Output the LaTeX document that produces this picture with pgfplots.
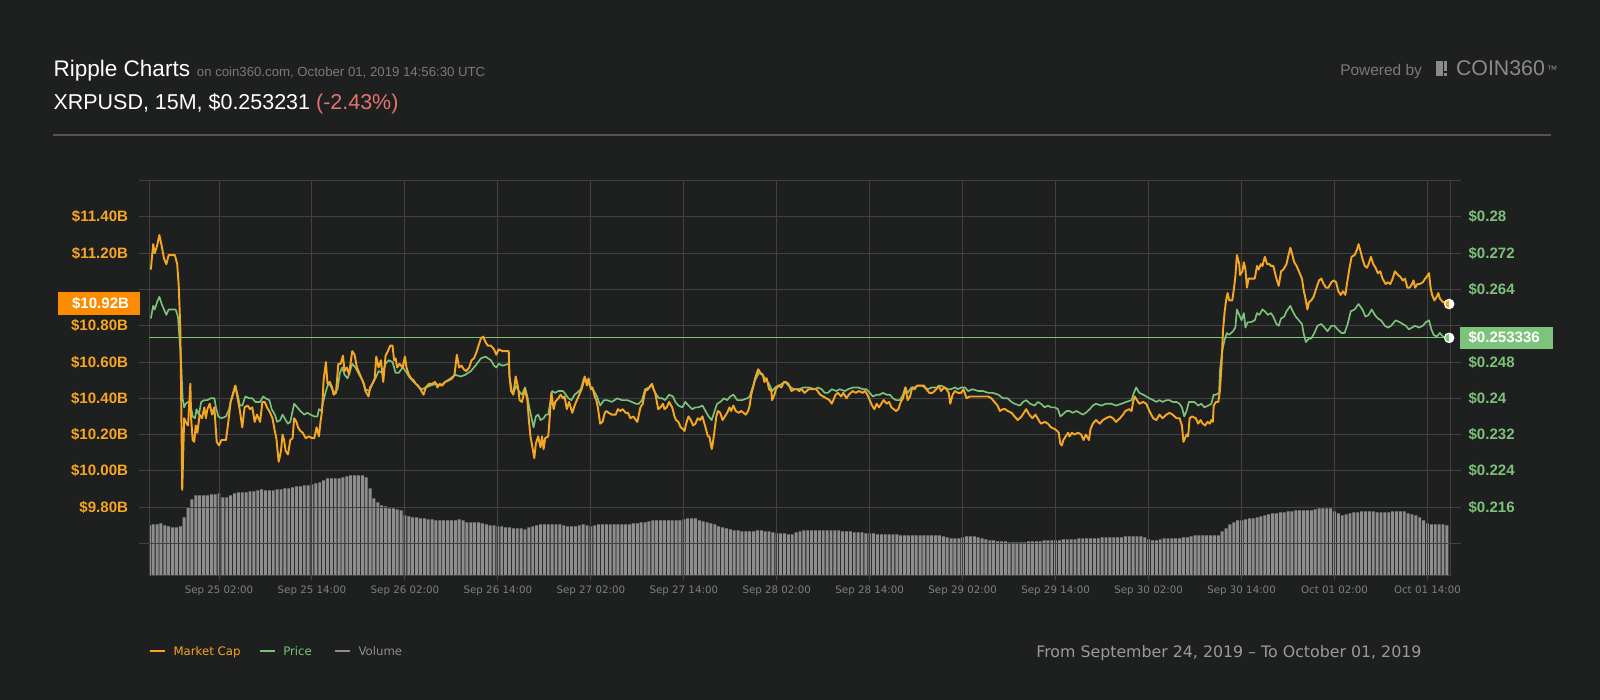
\documentclass[border=0pt]{standalone}
\usepackage{fontspec}
\setmainfont{Liberation Sans}
\newfontfamily\dejavu{DejaVu Sans}
\usepackage{pgfplots}
\pgfplotsset{compat=1.18}
\usetikzlibrary{plotmarks}
\definecolor{bg}{HTML}{1E1F1F}
\definecolor{gridc}{HTML}{424242}
\definecolor{mcapc}{HTML}{F5A623}
\definecolor{pricec}{HTML}{7DC27A}
\definecolor{volc}{HTML}{8E8E8E}
\definecolor{boxorange}{HTML}{FB8C00}
\definecolor{boxgreen}{HTML}{7CC47C}
\definecolor{subc}{HTML}{7A7A7A}
\definecolor{redc}{HTML}{E57373}
\definecolor{rulec}{HTML}{555555}
\definecolor{xtickc}{HTML}{808080}
\definecolor{footc}{HTML}{9A9A9A}
\definecolor{logoc}{HTML}{8A8A8A}
\pgfplotsset{base/.style={at={(111.98pt,93.53pt)}, anchor=south west, scale only axis,
  width=976.05pt, height=295.95pt, xmin=-7, xmax=161, clip mode=individual}}
\begin{document}
\begin{tikzpicture}
\useasboundingbox (0,0) rectangle (1200pt,525pt);
\fill[bg] (0,0) rectangle (1200pt,525pt);
% header
\node[anchor=base west, inner sep=0, text=white, font=\fontsize{16.9}{20}\selectfont] at (40pt,467.5pt) {Ripple Charts};
\node[anchor=base west, inner sep=0, text=subc, font=\fontsize{9.9}{12}\selectfont] at (147.5pt,467.5pt) {on coin360.com, October 01, 2019 14:56:30 UTC};
\node[anchor=base west, inner sep=0, text=white, font=\fontsize{16.1}{20}\selectfont] at (40pt,442.5pt) {XRPUSD, 15M, \$0.253231 \textcolor{redc}{(-2.43\%)}};
\draw[rulec, line width=1.5pt] (40pt,423.75pt) -- (1163.25pt,423.75pt);
\node[anchor=base west, inner sep=0, text=subc, font=\fontsize{11.6}{14}\selectfont] at (1005pt,468pt) {Powered by};
\fill[logoc] (1076.8pt,468pt) rectangle (1082.3pt,479.5pt);
\fill[logoc] (1083.2pt,471.4pt) rectangle (1085pt,479.5pt);
\fill[logoc] (1083.2pt,468pt) rectangle (1085pt,470.3pt);
\node[anchor=base west, inner sep=0, text=logoc, font=\fontsize{16}{19}\selectfont] at (1091.8pt,468pt) {COIN360};
\node[anchor=base west, inner sep=0, text=logoc, font=\fontsize{8}{9}\selectfont] at (1160pt,470pt) {™};
% legend
\draw[mcapc, line width=1pt] (112.5pt,36.75pt) -- (123.75pt,36.75pt);
\node[anchor=base west, inner sep=0, text=mcapc, font=\dejavu\fontsize{8.8}{10}\selectfont] at (130pt,33.75pt) {Market Cap};
\draw[pricec, line width=1pt] (195.2pt,36.75pt) -- (206.25pt,36.75pt);
\node[anchor=base west, inner sep=0, text=pricec, font=\dejavu\fontsize{8.8}{10}\selectfont] at (212.25pt,33.75pt) {Price};
\draw[volc, line width=1pt] (251.5pt,36.75pt) -- (262.5pt,36.75pt);
\node[anchor=base west, inner sep=0, text=volc, font=\dejavu\fontsize{8.8}{10}\selectfont] at (268.7pt,33.75pt) {Volume};
\node[anchor=base east, inner sep=0, text=footc, font=\dejavu\fontsize{11.85}{14}\selectfont] at (1066.3pt,31.7pt) {From September 24, 2019 – To October 01, 2019};

% volume
\begin{axis}[base, ymin=0, ymax=394.6, hide axis]
\addplot[ybar, bar width=0.38, fill=volc, draw=none] coordinates {
(-7,50) (-6.5,51) (-6,51) (-5.5,52) (-5,50) (-4.5,49) (-4,48) (-3.5,48) (-3,49) (-2.5,58) (-2,68) (-1.5,76) (-1,80) (-0.5,80) (0,80) (0.5,80) (1,81) (1.5,81) (2,82) (2.5,78) (3,78) (3.5,80) (4,82) (4.5,83) (5,83) (5.5,83) (6,84) (6.5,84) (7,85) (7.5,86) (8,85) (8.5,85) (9,85) (9.5,86) (10,86) (10.5,87) (11,87) (11.5,88) (12,89) (12.5,89) (13,90) (13.5,90) (14,91) (14.5,92) (15,93) (15.5,95) (16,97) (16.5,97) (17,97) (17.5,97) (18,98) (18.5,99) (19,100) (19.5,100) (20,100) (20.5,100) (21,98) (21.5,87) (22,77) (22.5,73) (23,70) (23.5,69) (24,67) (24.5,67) (25,66) (25.5,65) (26,60) (26.5,59) (27,58) (27.5,58) (28,57) (28.5,57) (29,56) (29.5,56) (30,55) (30.5,55) (31,55) (31.5,55) (32,55) (32.5,55) (33,56) (33.5,55) (34,53) (34.5,53) (35,53) (35.5,53) (36,52) (36.5,51) (37,50) (37.5,50) (38,49) (38.5,49) (39,48) (39.5,48) (40,47) (40.5,47) (41,47) (41.5,46) (42,48) (42.5,49) (43,50) (43.5,51) (44,51) (44.5,51) (45,51) (45.5,51) (46,51) (46.5,50) (47,49) (47.5,49) (48,49) (48.5,50) (49,51) (49.5,50) (50,49) (50.5,50) (51,51) (51.5,51) (52,51) (52.5,51) (53,51) (53.5,51) (54,51) (54.5,51) (55,51) (55.5,52) (56,52) (56.5,53) (57,53) (57.5,54) (58,55) (58.5,55) (59,55) (59.5,55) (60,55) (60.5,55) (61,55) (61.5,55) (62,56) (62.5,57) (63,57) (63.5,57) (64,55) (64.5,54) (65,53) (65.5,52) (66,51) (66.5,49) (67,48) (67.5,47) (68,46) (68.5,45) (69,45) (69.5,44) (70,44) (70.5,44) (71,44) (71.5,45) (72,45) (72.5,44) (73,44) (73.5,43) (74,42) (74.5,42) (75,42) (75.5,41) (76,41) (76.5,43) (77,44) (77.5,45) (78,45) (78.5,45) (79,45) (79.5,45) (80,45) (80.5,45) (81,45) (81.5,45) (82,45) (82.5,44) (83,44) (83.5,44) (84,43) (84.5,43) (85,43) (85.5,42) (86,42) (86.5,42) (87,41) (87.5,41) (88,41) (88.5,41) (89,41) (89.5,41) (90,40) (90.5,40) (91,40) (91.5,40) (92,40) (92.5,40) (93,40) (93.5,40) (94,40) (94.5,40) (95,40) (95.5,39) (96,38) (96.5,37) (97,37) (97.5,37) (98,38) (98.5,39) (99,39) (99.5,39) (100,38) (100.5,37) (101,36) (101.5,35) (102,35) (102.5,34) (103,34) (103.5,34) (104,33) (104.5,33) (105,33) (105.5,33) (106,33) (106.5,34) (107,34) (107.5,34) (108,34) (108.5,35) (109,35) (109.5,35) (110,35) (110.5,35) (111,36) (111.5,36) (112,36) (112.5,36) (113,37) (113.5,37) (114,37) (114.5,37) (115,37) (115.5,37) (116,38) (116.5,38) (117,38) (117.5,38) (118,38) (118.5,38) (119,39) (119.5,39) (120,39) (120.5,39) (121,39) (121.5,38) (122,36) (122.5,35) (123,35) (123.5,36) (124,37) (124.5,37) (125,37) (125.5,37) (126,37) (126.5,38) (127,38) (127.5,39) (128,40) (128.5,40) (129,40) (129.5,40) (130,40) (130.5,40) (131,40) (131.5,44) (132,47) (132.5,51) (133,53) (133.5,55) (134,55) (134.5,56) (135,57) (135.5,57) (136,58) (136.5,59) (137,60) (137.5,61) (138,62) (138.5,62) (139,63) (139.5,63) (140,64) (140.5,64) (141,65) (141.5,65) (142,65) (142.5,65) (143,65) (143.5,66) (144,67) (144.5,67) (145,67) (145.5,67) (146,64) (146.5,62) (147,60) (147.5,61) (148,62) (148.5,63) (149,63) (149.5,64) (150,64) (150.5,64) (151,64) (151.5,63) (152,63) (152.5,63) (153,63) (153.5,64) (154,64) (154.5,64) (155,64) (155.5,62) (156,61) (156.5,60) (157,58) (157.5,55) (158,52) (158.5,51) (159,51) (159.5,51) (160,51) (160.5,50)
};
\end{axis}

% grid and left labels
\begin{axis}[base, ymin=9.424, ymax=11.6,
  axis line style={draw=none}, major tick length=0pt,
  xtick={2,14,26,38,50,62,74,86,98,110,122,134,146,158},
  xticklabels={Sep 25 02:00,Sep 25 14:00,Sep 26 02:00,Sep 26 14:00,Sep 27 02:00,Sep 27 14:00,Sep 28 02:00,Sep 28 14:00,Sep 29 02:00,Sep 29 14:00,Sep 30 02:00,Sep 30 14:00,Oct 01 02:00,Oct 01 14:00},
  xmajorgrids, grid style={gridc, line width=0.75pt},
  ytick={9.8,10,10.2,10.4,10.6,10.8,11.2,11.4},
  yticklabels={\$9.80B,\$10.00B,\$10.20B,\$10.40B,\$10.60B,\$10.80B,\$11.20B,\$11.40B},
  yticklabel style={anchor=east, inner sep=0pt, xshift=-15.75pt, font=\bfseries\fontsize{11.3}{13}\selectfont, text=mcapc},
  xticklabel style={anchor=base, inner sep=0pt, yshift=-14pt, font=\dejavu\fontsize{7.7}{9}\selectfont, text=xtickc},
  ytick pos=left, xtick pos=bottom]
\pgfplotsinvokeforeach{9.6,9.8,10.0,10.2,10.4,10.6,10.8,11.0,11.2,11.4,11.6}{
  \draw[gridc, line width=0.75pt] ([xshift=-7.5pt]axis cs:-7,#1) -- ([xshift=7.5pt]axis cs:161,#1);}
\draw[gridc, line width=0.75pt] (axis cs:-7,9.424) -- (axis cs:-7,11.6);
\draw[gridc, line width=0.75pt] (axis cs:161,9.424) -- (axis cs:161,11.6);
\draw[gridc, line width=0.75pt] (axis cs:-7,9.424) -- (axis cs:161,9.424);
\pgfplotsinvokeforeach{2,14,26,38,50,62,74,86,98,110,122,134,146,158}{
  \draw[gridc, line width=0.75pt] (axis cs:#1,9.424) -- ([yshift=-3.75pt]axis cs:#1,9.424);}
\end{axis}

% price
\begin{axis}[base, ymin=0.20096, ymax=0.288, hide x axis,
  axis line style={draw=none}, major tick length=0pt,
  ytick={0.216,0.224,0.232,0.24,0.248,0.264,0.272,0.28},
  yticklabels={\$0.216,\$0.224,\$0.232,\$0.24,\$0.248,\$0.264,\$0.272,\$0.28},
  ytick pos=right, yticklabel pos=right,
  yticklabel style={anchor=west, inner sep=0pt, xshift=13.2pt, font=\bfseries\fontsize{11.3}{13}\selectfont, text=pricec}]
\addplot[pricec, line width=0.7pt] coordinates {(-7,0.253336) (161,0.253336)};
\addplot[pricec, line width=1.25pt, line join=round] coordinates {
(-6.8,0.2576) (-6.5,0.2604) (-6.3,0.2596) (-6.0,0.2612) (-5.7,0.2624) (-5.4,0.2608) (-5.1,0.2596) (-4.8,0.2584) (-4.5,0.2596) (-4.0,0.2596) (-3.6,0.2596) (-3.3,0.2580) (-3.2,0.2556) (-2.9,0.2484) (-2.7,0.2400) (-2.5,0.2380) (-2.3,0.2388) (-2.0,0.2392) (-1.7,0.2388) (-1.4,0.2360) (-1.1,0.2356) (-0.9,0.2376) (-0.6,0.2364) (-0.3,0.2392) (0.1,0.2396) (0.5,0.2396) (0.9,0.2400) (1.4,0.2400) (1.6,0.2380) (1.9,0.2360) (2.3,0.2356) (2.9,0.2360) (3.3,0.2376) (3.6,0.2400) (4.1,0.2428) (4.4,0.2408) (4.7,0.2384) (5.0,0.2384) (5.4,0.2404) (5.9,0.2400) (6.3,0.2400) (6.7,0.2392) (7.3,0.2392) (7.7,0.2404) (8.0,0.2400) (8.5,0.2396) (8.8,0.2376) (9.2,0.2364) (9.5,0.2348) (9.9,0.2352) (10.2,0.2364) (10.6,0.2352) (10.9,0.2344) (11.2,0.2348) (11.7,0.2388) (12.1,0.2380) (12.5,0.2372) (13.0,0.2364) (13.4,0.2368) (13.8,0.2364) (14.3,0.2360) (14.7,0.2360) (14.9,0.2376) (15.2,0.2372) (15.5,0.2396) (15.8,0.2416) (16.1,0.2432) (16.4,0.2428) (16.8,0.2412) (17.3,0.2420) (17.6,0.2456) (17.9,0.2468) (18.2,0.2452) (18.6,0.2444) (18.9,0.2460) (19.2,0.2476) (19.6,0.2468) (20.1,0.2452) (20.5,0.2440) (20.9,0.2420) (21.4,0.2416) (21.8,0.2432) (22.2,0.2444) (22.6,0.2460) (23.1,0.2456) (23.5,0.2476) (23.9,0.2484) (24.4,0.2480) (24.8,0.2456) (25.2,0.2456) (25.7,0.2468) (26.1,0.2460) (26.5,0.2448) (26.9,0.2440) (27.4,0.2432) (27.8,0.2424) (28.2,0.2420) (28.7,0.2424) (29.3,0.2428) (30.0,0.2432) (30.6,0.2428) (31.2,0.2436) (31.9,0.2444) (32.5,0.2452) (33.2,0.2448) (33.8,0.2452) (34.5,0.2460) (35.1,0.2472) (35.8,0.2488) (36.4,0.2492) (37.1,0.2484) (37.5,0.2472) (37.8,0.2468) (38.1,0.2476) (38.6,0.2472) (39.4,0.2476) (39.5,0.2448) (39.8,0.2416) (40.1,0.2416) (40.4,0.2428) (40.7,0.2416) (41.1,0.2408) (41.5,0.2424) (41.8,0.2404) (42.1,0.2376) (42.3,0.2360) (42.6,0.2336) (42.9,0.2360) (43.2,0.2364) (43.5,0.2352) (43.9,0.2356) (44.2,0.2364) (44.5,0.2364) (44.8,0.2396) (45.0,0.2416) (45.4,0.2412) (45.8,0.2416) (46.4,0.2416) (46.6,0.2412) (47.1,0.2400) (47.5,0.2396) (47.9,0.2408) (48.2,0.2412) (48.7,0.2420) (49.1,0.2444) (49.5,0.2440) (50.0,0.2424) (50.4,0.2416) (50.8,0.2404) (51.2,0.2384) (51.7,0.2396) (52.1,0.2396) (52.7,0.2392) (53.4,0.2400) (54.0,0.2396) (54.7,0.2396) (55.3,0.2392) (55.8,0.2388) (56.2,0.2388) (56.6,0.2396) (57.0,0.2420) (57.5,0.2424) (57.9,0.2428) (58.3,0.2412) (58.8,0.2400) (59.2,0.2400) (59.6,0.2396) (60.1,0.2408) (60.6,0.2404) (60.9,0.2392) (61.3,0.2384) (61.8,0.2380) (62.2,0.2392) (62.6,0.2384) (63.1,0.2376) (63.5,0.2380) (63.9,0.2380) (64.4,0.2384) (64.8,0.2372) (65.2,0.2360) (65.6,0.2352) (65.9,0.2368) (66.3,0.2388) (66.7,0.2392) (67.2,0.2400) (67.6,0.2396) (68.0,0.2404) (68.4,0.2408) (68.9,0.2396) (69.5,0.2396) (70.2,0.2400) (70.5,0.2404) (70.8,0.2420) (71.2,0.2440) (71.7,0.2456) (72.1,0.2452) (72.5,0.2444) (73.0,0.2432) (73.4,0.2416) (73.8,0.2424) (74.2,0.2428) (74.7,0.2432) (75.1,0.2436) (75.5,0.2428) (76.2,0.2420) (76.8,0.2420) (77.5,0.2424) (78.1,0.2424) (79.0,0.2420) (79.3,0.2424) (79.8,0.2420) (80.2,0.2412) (80.6,0.2412) (81.1,0.2420) (81.7,0.2416) (82.1,0.2420) (82.8,0.2416) (83.2,0.2420) (83.9,0.2424) (84.5,0.2424) (85.1,0.2420) (85.6,0.2420) (86.0,0.2412) (86.4,0.2404) (86.9,0.2408) (87.3,0.2408) (87.7,0.2412) (88.2,0.2408) (88.6,0.2408) (89.0,0.2400) (89.4,0.2396) (89.9,0.2396) (90.3,0.2408) (90.6,0.2424) (90.9,0.2412) (91.4,0.2424) (91.8,0.2424) (92.2,0.2428) (92.7,0.2428) (93.1,0.2424) (93.5,0.2420) (94.0,0.2424) (94.4,0.2424) (94.8,0.2424) (95.2,0.2428) (95.7,0.2424) (96.1,0.2420) (96.5,0.2420) (97.0,0.2424) (97.4,0.2420) (97.8,0.2424) (98.3,0.2424) (98.7,0.2416) (99.3,0.2420) (100.0,0.2416) (100.6,0.2416) (101.3,0.2412) (101.9,0.2412) (102.6,0.2408) (103.2,0.2400) (103.8,0.2400) (104.3,0.2392) (104.7,0.2388) (105.4,0.2384) (105.8,0.2392) (106.2,0.2396) (106.7,0.2388) (107.3,0.2384) (107.7,0.2392) (108.1,0.2388) (108.6,0.2380) (109.0,0.2384) (109.4,0.2380) (109.9,0.2380) (110.3,0.2376) (110.6,0.2360) (110.9,0.2364) (111.4,0.2372) (111.8,0.2372) (112.2,0.2368) (112.7,0.2372) (113.1,0.2368) (113.5,0.2364) (113.9,0.2368) (114.4,0.2376) (114.8,0.2384) (115.2,0.2388) (115.9,0.2384) (116.5,0.2388) (117.2,0.2388) (117.8,0.2384) (118.5,0.2388) (119.1,0.2392) (119.8,0.2396) (120.1,0.2412) (120.4,0.2424) (120.8,0.2412) (121.3,0.2408) (121.7,0.2404) (122.1,0.2400) (122.6,0.2396) (123.0,0.2392) (123.4,0.2396) (123.8,0.2392) (124.3,0.2396) (124.7,0.2396) (125.1,0.2392) (125.6,0.2392) (126.0,0.2388) (126.3,0.2380) (126.6,0.2360) (126.9,0.2372) (127.2,0.2392) (127.5,0.2392) (127.9,0.2392) (128.4,0.2384) (128.8,0.2388) (129.2,0.2380) (129.7,0.2384) (130.1,0.2388) (130.4,0.2408) (130.7,0.2408) (131.1,0.2412) (131.2,0.2460) (131.5,0.2504) (131.8,0.2528) (132.1,0.2544) (132.4,0.2540) (132.9,0.2548) (133.2,0.2556) (133.4,0.2596) (133.7,0.2584) (134.0,0.2572) (134.3,0.2588) (134.5,0.2556) (134.8,0.2568) (135.2,0.2568) (135.7,0.2572) (136.0,0.2588) (136.3,0.2584) (136.7,0.2596) (137.0,0.2592) (137.4,0.2584) (137.8,0.2588) (138.1,0.2580) (138.5,0.2564) (138.8,0.2560) (139.1,0.2576) (139.5,0.2580) (139.8,0.2592) (140.3,0.2604) (140.6,0.2592) (141.0,0.2580) (141.4,0.2572) (141.8,0.2564) (142.0,0.2544) (142.3,0.2524) (142.7,0.2532) (143.0,0.2532) (143.4,0.2544) (143.8,0.2560) (144.3,0.2564) (144.7,0.2556) (145.1,0.2548) (145.6,0.2560) (146.0,0.2560) (146.4,0.2552) (146.9,0.2544) (147.3,0.2544) (147.7,0.2564) (148.1,0.2592) (148.6,0.2596) (149.1,0.2608) (149.6,0.2596) (150.0,0.2580) (150.4,0.2584) (150.8,0.2596) (151.2,0.2584) (151.6,0.2576) (152.0,0.2572) (152.5,0.2560) (152.9,0.2556) (153.3,0.2560) (153.9,0.2572) (154.4,0.2568) (154.8,0.2564) (155.2,0.2560) (155.6,0.2552) (156.0,0.2556) (156.4,0.2560) (156.9,0.2556) (157.4,0.2560) (157.8,0.2568) (158.2,0.2572) (158.5,0.2552) (158.8,0.2540) (159.2,0.2536) (159.6,0.2544) (160.0,0.2536) (160.4,0.2532) (160.8,0.253336)
};
\addplot[only marks, mark=halfcircle*, mark size=3.5pt, mark options={draw=white, fill=white, mark color=pricec, rotate=-90, line width=0.9pt}] coordinates {(160.8,0.253336)};
\fill[boxgreen] ([xshift=7pt,yshift=-8.5pt]axis cs:161,0.253336) rectangle ([xshift=76.5pt,yshift=8.5pt]axis cs:161,0.253336);
\node[anchor=west, inner sep=0pt, text=white, font=\bfseries\fontsize{11.3}{13}\selectfont] at ([xshift=13.2pt]axis cs:161,0.253336) {\$0.253336};
\end{axis}

% market cap
\begin{axis}[base, ymin=9.424, ymax=11.6, hide axis]
\addplot[mcapc, line width=1.45pt, line join=round] coordinates {
(-6.8,11.11) (-6.5,11.25) (-6.3,11.20) (-6.0,11.24) (-5.7,11.30) (-5.4,11.24) (-5.1,11.17) (-4.8,11.14) (-4.5,11.19) (-4.1,11.19) (-3.7,11.19) (-3.4,11.14) (-3.2,11.02) (-3.0,10.79) (-2.9,10.46) (-2.75,9.895) (-2.5,10.29) (-2.3,10.27) (-2.0,10.25) (-1.7,10.48) (-1.6,10.29) (-1.4,10.17) (-1.2,10.16) (-1.0,10.25) (-0.8,10.21) (-0.5,10.31) (-0.2,10.29) (0.1,10.35) (0.3,10.29) (0.5,10.34) (0.8,10.37) (1.1,10.31) (1.4,10.35) (1.7,10.16) (2.0,10.14) (2.3,10.17) (2.9,10.17) (3.2,10.27) (3.5,10.38) (3.8,10.42) (4.1,10.47) (4.4,10.40) (4.7,10.33) (5.0,10.24) (5.3,10.35) (5.7,10.36) (6.0,10.34) (6.3,10.35) (6.6,10.27) (6.9,10.31) (7.3,10.27) (7.6,10.38) (7.9,10.38) (8.2,10.35) (8.6,10.32) (8.9,10.29) (9.2,10.22) (9.4,10.18) (9.7,10.05) (10.0,10.11) (10.2,10.20) (10.4,10.17) (10.6,10.11) (10.9,10.09) (11.2,10.17) (11.5,10.18) (11.7,10.29) (12.0,10.27) (12.2,10.24) (12.5,10.22) (12.8,10.21) (13.2,10.18) (13.6,10.19) (14.0,10.18) (14.3,10.18) (14.6,10.24) (14.9,10.19) (15.1,10.27) (15.3,10.33) (15.5,10.50) (15.8,10.60) (16.0,10.48) (16.3,10.49) (16.6,10.46) (16.8,10.42) (17.1,10.43) (17.4,10.59) (17.7,10.59) (18.0,10.635) (18.2,10.55) (18.5,10.57) (18.8,10.53) (19.0,10.60) (19.2,10.66) (19.5,10.64) (19.8,10.57) (20.1,10.54) (20.4,10.51) (20.7,10.48) (20.9,10.44) (21.3,10.41) (21.5,10.46) (21.8,10.48) (22.1,10.51) (22.3,10.63) (22.6,10.57) (22.9,10.61) (23.2,10.49) (23.5,10.635) (23.8,10.66) (24.1,10.69) (24.4,10.69) (24.6,10.61) (24.8,10.62) (25.0,10.57) (25.3,10.59) (25.7,10.57) (26.0,10.63) (26.2,10.57) (26.5,10.53) (26.8,10.51) (27.1,10.50) (27.4,10.48) (27.7,10.47) (28.0,10.45) (28.4,10.42) (28.7,10.46) (29.1,10.48) (29.5,10.48) (29.9,10.49) (30.2,10.46) (30.5,10.48) (30.8,10.47) (31.2,10.49) (31.7,10.50) (32.1,10.51) (32.4,10.53) (32.7,10.64) (33.0,10.57) (33.3,10.58) (33.6,10.56) (33.9,10.55) (34.3,10.57) (34.6,10.61) (34.9,10.62) (35.2,10.65) (35.5,10.69) (35.8,10.73) (36.1,10.74) (36.4,10.71) (36.7,10.69) (37.1,10.69) (37.5,10.67) (37.8,10.64) (38.1,10.67) (38.6,10.66) (39.0,10.66) (39.4,10.66) (39.5,10.52) (39.7,10.44) (40.0,10.42) (40.3,10.52) (40.6,10.46) (40.8,10.39) (41.1,10.38) (41.5,10.45) (41.8,10.39) (42.0,10.28) (42.2,10.19) (42.5,10.12) (42.7,10.07) (42.9,10.15) (43.2,10.19) (43.5,10.13) (43.7,10.19) (43.9,10.12) (44.1,10.18) (44.5,10.19) (44.7,10.30) (44.9,10.43) (45.2,10.34) (45.4,10.38) (45.8,10.40) (46.1,10.42) (46.4,10.40) (46.6,10.41) (46.9,10.34) (47.2,10.38) (47.6,10.32) (47.9,10.36) (48.2,10.39) (48.4,10.41) (48.8,10.45) (49.0,10.48) (49.2,10.52) (49.5,10.47) (49.7,10.51) (50.0,10.45) (50.2,10.46) (50.5,10.41) (50.7,10.39) (50.9,10.35) (51.2,10.26) (51.5,10.27) (51.8,10.32) (52.0,10.33) (52.3,10.32) (52.7,10.31) (53.2,10.31) (53.5,10.34) (53.8,10.33) (54.1,10.34) (54.5,10.32) (54.8,10.32) (55.1,10.29) (55.5,10.30) (55.8,10.28) (56.0,10.27) (56.2,10.31) (56.4,10.35) (56.7,10.37) (57.0,10.44) (57.4,10.45) (57.7,10.47) (57.9,10.48) (58.1,10.45) (58.3,10.43) (58.7,10.34) (59.0,10.35) (59.3,10.37) (59.5,10.34) (59.8,10.35) (60.1,10.38) (60.5,10.35) (60.8,10.30) (61.0,10.28) (61.3,10.27) (61.6,10.24) (61.9,10.23) (62.1,10.22) (62.3,10.26) (62.6,10.30) (62.9,10.28) (63.2,10.25) (63.5,10.26) (63.8,10.29) (64.1,10.28) (64.4,10.30) (64.8,10.24) (65.1,10.19) (65.3,10.19) (65.6,10.12) (65.7,10.14) (65.9,10.20) (66.2,10.30) (66.4,10.33) (66.7,10.32) (67.0,10.28) (67.3,10.30) (67.6,10.32) (67.9,10.35) (68.1,10.33) (68.4,10.36) (68.7,10.33) (69.1,10.32) (69.4,10.33) (69.7,10.32) (70.0,10.31) (70.3,10.33) (70.5,10.36) (70.7,10.42) (71.0,10.47) (71.2,10.51) (71.6,10.56) (71.9,10.54) (72.2,10.53) (72.4,10.49) (72.7,10.51) (73.0,10.45) (73.3,10.44) (73.4,10.39) (73.7,10.42) (73.9,10.45) (74.2,10.47) (74.6,10.46) (74.9,10.49) (75.2,10.49) (75.5,10.48) (75.7,10.46) (75.9,10.44) (76.3,10.45) (76.6,10.45) (76.9,10.44) (77.2,10.45) (77.6,10.43) (78.1,10.45) (78.5,10.45) (79.1,10.45) (79.6,10.42) (80.0,10.41) (80.4,10.40) (80.8,10.39) (81.1,10.37) (81.3,10.39) (81.6,10.42) (81.9,10.43) (82.3,10.41) (82.6,10.43) (83.0,10.40) (83.3,10.42) (83.8,10.44) (84.2,10.43) (84.6,10.44) (85.1,10.43) (85.4,10.44) (85.7,10.42) (86.0,10.39) (86.3,10.36) (86.6,10.34) (86.9,10.37) (87.2,10.35) (87.5,10.37) (87.8,10.39) (88.2,10.37) (88.5,10.38) (88.8,10.35) (89.1,10.34) (89.4,10.33) (89.7,10.34) (90.0,10.38) (90.3,10.40) (90.6,10.46) (90.9,10.39) (91.2,10.41) (91.5,10.46) (91.8,10.45) (92.1,10.47) (92.6,10.47) (93.0,10.47) (93.3,10.45) (93.7,10.43) (94.1,10.43) (94.6,10.45) (94.9,10.47) (95.2,10.44) (95.6,10.46) (95.9,10.45) (96.2,10.43) (96.4,10.37) (96.7,10.42) (97.0,10.44) (97.4,10.43) (97.8,10.43) (98.1,10.45) (98.5,10.40) (98.9,10.41) (99.3,10.41) (100.0,10.41) (100.6,10.41) (101.3,10.41) (101.7,10.40) (102.1,10.38) (102.5,10.36) (102.8,10.33) (103.2,10.34) (103.5,10.34) (103.8,10.33) (104.3,10.32) (104.7,10.30) (105.1,10.28) (105.6,10.30) (105.9,10.32) (106.2,10.34) (106.6,10.31) (107.0,10.29) (107.4,10.31) (107.8,10.28) (108.1,10.26) (108.6,10.27) (109.0,10.26) (109.4,10.24) (109.9,10.23) (110.2,10.22) (110.4,10.21) (110.6,10.15) (110.8,10.14) (111.0,10.17) (111.3,10.19) (111.6,10.21) (111.8,10.19) (112.1,10.21) (112.4,10.20) (112.9,10.21) (113.3,10.20) (113.6,10.17) (113.9,10.20) (114.3,10.17) (114.5,10.23) (114.8,10.26) (115.2,10.28) (115.7,10.26) (116.1,10.28) (116.5,10.29) (117.0,10.30) (117.4,10.29) (117.8,10.27) (118.3,10.29) (118.7,10.31) (119.0,10.33) (119.5,10.34) (119.8,10.33) (120.0,10.38) (120.2,10.41) (120.5,10.39) (120.8,10.37) (121.3,10.38) (121.7,10.37) (122.1,10.33) (122.6,10.29) (123.0,10.28) (123.4,10.31) (123.8,10.29) (124.3,10.31) (124.7,10.32) (125.1,10.31) (125.6,10.29) (126.0,10.29) (126.3,10.25) (126.5,10.16) (126.9,10.20) (127.1,10.19) (127.3,10.29) (127.6,10.30) (128.1,10.29) (128.4,10.26) (128.7,10.28) (129.0,10.26) (129.3,10.25) (129.6,10.27) (129.9,10.26) (130.1,10.28) (130.3,10.27) (130.4,10.36) (130.7,10.38) (131.0,10.38) (131.2,10.44) (131.4,10.57) (131.6,10.77) (131.8,10.87) (132.0,10.94) (132.2,10.98) (132.4,10.94) (132.8,10.94) (133.0,11.00) (133.2,11.07) (133.4,11.19) (133.7,11.14) (133.8,11.08) (134.1,11.10) (134.3,11.15) (134.5,11.11) (134.7,11.01) (134.9,11.06) (135.2,11.06) (135.7,11.06) (136.0,11.13) (136.2,11.11) (136.5,11.14) (136.7,11.13) (137.0,11.18) (137.3,11.14) (137.6,11.14) (137.8,11.13) (138.1,11.13) (138.5,11.06) (138.8,11.02) (139.1,11.10) (139.4,11.11) (139.8,11.14) (140.0,11.18) (140.3,11.23) (140.5,11.20) (140.8,11.15) (141.1,11.13) (141.5,11.09) (141.8,11.06) (142.0,11.00) (142.3,10.94) (142.5,10.89) (142.7,10.93) (143.0,10.94) (143.3,10.96) (143.6,11.00) (144.0,11.05) (144.3,11.06) (144.6,11.03) (144.9,11.01) (145.2,11.01) (145.6,11.04) (145.9,11.05) (146.2,11.04) (146.5,10.99) (146.8,10.97) (147.1,10.99) (147.4,10.97) (147.6,11.03) (147.9,11.11) (148.2,11.18) (148.6,11.19) (148.9,11.22) (149.1,11.25) (149.3,11.22) (149.6,11.17) (149.9,11.13) (150.2,11.12) (150.4,11.14) (150.7,11.18) (151.0,11.14) (151.3,11.12) (151.6,11.09) (151.9,11.10) (152.2,11.06) (152.6,11.03) (152.9,11.04) (153.2,11.03) (153.5,11.06) (153.8,11.10) (154.2,11.08) (154.5,11.07) (154.8,11.05) (155.1,11.06) (155.4,11.01) (155.7,11.01) (156.0,11.03) (156.2,11.05) (156.4,11.01) (156.7,11.03) (157.0,11.03) (157.4,11.04) (157.7,11.06) (157.9,11.07) (158.2,11.09) (158.4,11.01) (158.6,10.97) (158.9,10.94) (159.2,10.96) (159.4,10.98) (159.6,10.95) (160.0,10.93) (160.4,10.93) (160.8,10.92)
};
\addplot[only marks, mark=halfcircle*, mark size=3.5pt, mark options={draw=white, fill=white, mark color=mcapc, rotate=-90, line width=0.9pt}] coordinates {(160.8,10.92)};
\fill[boxorange] ([xshift=-68.25pt,yshift=-8.6pt]axis cs:-7,10.924) rectangle ([xshift=-7pt,yshift=8.6pt]axis cs:-7,10.924);
\node[anchor=east, inner sep=0pt, text=white, font=\bfseries\fontsize{11.3}{13}\selectfont] at ([xshift=-15pt]axis cs:-7,10.924) {\$10.92B};
\end{axis}
\end{tikzpicture}
\end{document}
